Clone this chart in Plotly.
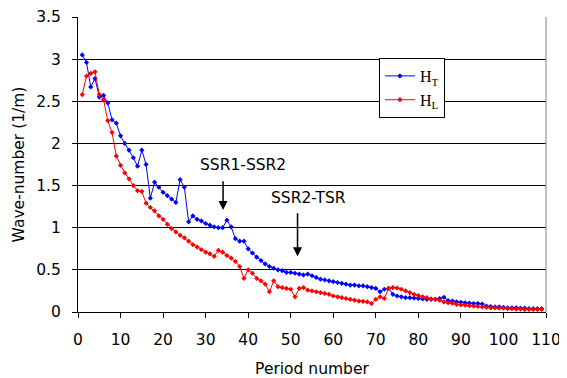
import plotly.graph_objects as go

period = list(range(1, 110))

h_t = [3.05, 2.96, 2.67, 2.77, 2.55, 2.57, 2.48, 2.28, 2.24, 2.09,
       2.00, 1.92, 1.83, 1.73, 1.92, 1.75, 1.35, 1.54, 1.48, 1.42,
       1.38, 1.34, 1.30, 1.57, 1.48, 1.07, 1.14, 1.10, 1.08, 1.05,
       1.03, 1.01, 1.00, 1.00, 1.09, 1.01, 0.87, 0.84, 0.84, 0.75,
       0.70, 0.65, 0.61, 0.57, 0.54, 0.52, 0.50, 0.49, 0.47, 0.47,
       0.46, 0.45, 0.44, 0.45, 0.43, 0.41, 0.39, 0.38, 0.37, 0.36,
       0.35, 0.34, 0.33, 0.32, 0.32, 0.31, 0.31, 0.30, 0.29, 0.28,
       0.24, 0.27, 0.28, 0.21, 0.19, 0.18, 0.17, 0.17, 0.165, 0.16,
       0.155, 0.15, 0.15, 0.15, 0.16, 0.175, 0.135, 0.13, 0.12, 0.115,
       0.11, 0.105, 0.10, 0.10, 0.095, 0.07, 0.065, 0.06, 0.06, 0.055,
       0.05, 0.05, 0.05, 0.045, 0.045, 0.04, 0.04, 0.04, 0.04]

h_l = [2.58, 2.80, 2.83, 2.85, 2.58, 2.52, 2.27, 2.13, 1.85, 1.74,
       1.65, 1.58, 1.50, 1.44, 1.43, 1.29, 1.24, 1.20, 1.14, 1.10,
       1.04, 0.99, 0.95, 0.91, 0.88, 0.84, 0.80, 0.77, 0.74, 0.71,
       0.69, 0.66, 0.73, 0.71, 0.67, 0.64, 0.60, 0.54, 0.40, 0.50,
       0.46, 0.40, 0.37, 0.33, 0.24, 0.37, 0.30, 0.29, 0.28, 0.27,
       0.18, 0.28, 0.29, 0.26, 0.25, 0.24, 0.23, 0.22, 0.21, 0.19,
       0.18, 0.17, 0.16, 0.15, 0.14, 0.13, 0.125, 0.12, 0.10, 0.15,
       0.18, 0.16, 0.28, 0.29, 0.285, 0.27, 0.25, 0.23, 0.21, 0.195,
       0.18, 0.17, 0.155, 0.15, 0.14, 0.12, 0.11, 0.105, 0.09, 0.085,
       0.08, 0.075, 0.07, 0.065, 0.06, 0.055, 0.05, 0.05, 0.045, 0.045,
       0.04, 0.04, 0.035, 0.035, 0.03, 0.03, 0.03, 0.03, 0.03]

fig = go.Figure()
fig.add_trace(go.Scatter(x=period, y=h_t, mode="lines+markers", name="H<sub>T</sub>",
                         line=dict(color="#0000FF", width=1),
                         marker=dict(symbol="diamond", size=4, color="#0000FF")))
fig.add_trace(go.Scatter(x=period, y=h_l, mode="lines+markers", name="H<sub>L</sub>",
                         line=dict(color="#FF0000", width=1),
                         marker=dict(symbol="diamond", size=4, color="#FF0000")))

font_ax = dict(family="DejaVu Sans", size=15.5, color="black")

# the page body has an 8px margin, so the figure is sized to fit the window
fig.update_layout(
    width=559, height=370,
    margin=dict(l=70, r=21, t=9, b=66),
    paper_bgcolor="white", plot_bgcolor="white",
    font=font_ax,
    showlegend=True,
    legend=dict(x=0.643, y=0.861, xanchor="left", yanchor="top",
                bgcolor="white", bordercolor="black", borderwidth=1,
                font=dict(family="Liberation Serif, Times New Roman", size=16, color="black"),
                tracegroupgap=0),
    xaxis=dict(range=[0, 110], dtick=10, tick0=0, ticks="outside", ticklen=5,
               tickcolor="black", showline=True, linecolor="black", linewidth=1,
               showgrid=False, zeroline=False, mirror=False, automargin=False,
               ticklabelstandoff=8,
               title=dict(text="Period number", font=font_ax, standoff=16)),
    yaxis=dict(range=[0, 3.5], dtick=0.5, tick0=0, ticks="outside", ticklen=5,
               tickcolor="black", showline=True, linecolor="black", linewidth=1,
               showgrid=True, gridcolor="black", gridwidth=1, zeroline=False,
               automargin=False, ticklabelstandoff=8,
               title=dict(text="Wave-number (1/m)", font=font_ax, standoff=7)),
)

fig.add_shape(type="line", xref="paper", yref="paper", x0=1, x1=1, y0=0, y1=1,
              line=dict(color="#808080", width=1))

fig.add_annotation(x=34.1, y=1.21, ax=34.1, ay=1.57, xref="x", yref="y",
                   axref="x", ayref="y", text="", showarrow=True,
                   arrowhead=2, arrowsize=1.2, arrowwidth=1.5, arrowcolor="black")
fig.add_annotation(x=38.7, y=1.74, xref="x", yref="y", text="SSR1-SSR2",
                   showarrow=False, font=font_ax)
fig.add_annotation(x=51.6, y=0.66, ax=51.6, ay=1.19, xref="x", yref="y",
                   axref="x", ayref="y", text="", showarrow=True,
                   arrowhead=2, arrowsize=1.2, arrowwidth=1.5, arrowcolor="black")
fig.add_annotation(x=54.1, y=1.35, xref="x", yref="y", text="SSR2-TSR",
                   showarrow=False, font=font_ax)

fig.write_html("out.html")
